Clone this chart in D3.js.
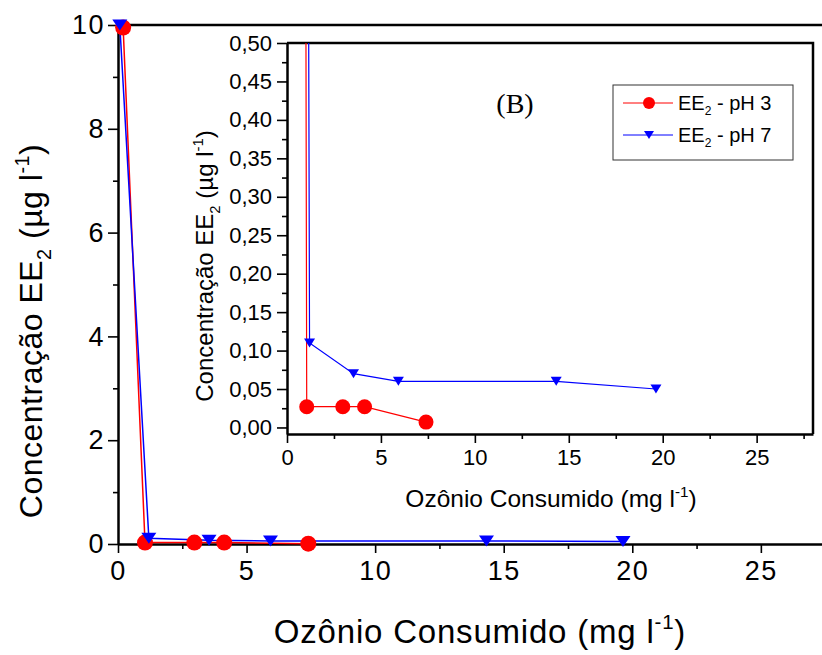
<!DOCTYPE html>
<html>
<head>
<meta charset="utf-8">
<script src="https://cdn.jsdelivr.net/npm/d3@7"></script>
<style>
  body { margin: 0; background: #fff; }
  svg { display: block; }
  text { font-family: "Liberation Sans", Arial, sans-serif; fill: #000; }
</style>
</head>
<body>
<div id="chart"></div>
<script>
// data (x = ozone consumed mg/l, y = EE2 ug/l)
var ph3X = [0.2, 1.05, 2.97, 4.13, 7.4];
var ph3Y = [9.95, 0.027, 0.027, 0.027, 0.007];
var ph7X = [0.07, 1.2, 3.54, 5.93, 14.33, 19.64];
var ph7Y = [10, 0.11, 0.07, 0.06, 0.06, 0.05];

var seriesNames = ["pH 3", "pH 7"];
var mainXTicks = [0, 5, 10, 15, 20, 25];
var mainYTicks = [0, 2, 4, 6, 8, 10];
var insetXTicks = [0, 5, 10, 15, 20, 25];
var insetYTicks = [0, 0.05, 0.10, 0.15, 0.20, 0.25, 0.30, 0.35, 0.40, 0.45, 0.50];

var width = 822, height = 655;

var svg = d3.select("#chart")
  .append("svg")
    .attr("width", width)
    .attr("height", height);

// scales
var x = d3.scaleLinear().domain([0, 28]).range([118, 838]);
var y = d3.scaleLinear().domain([0, 10]).range([544, 25]);
var xi = d3.scaleLinear().domain([0, 28]).range([287, 813]);
var yi = d3.scaleLinear().domain([-0.0085, 0.5]).range([434, 43]);

function pts(xs, ys) {
  return xs.map(function(d, i) { return {x: d, y: ys[i]}; });
}
var ph3 = pts(ph3X, ph3Y);
var ph7 = pts(ph7X, ph7Y);

function tri(w, h) {
  return "M" + (-w/2) + "," + (-h/2) + "L" + (w/2) + "," + (-h/2) + "L0," + (h/2) + "Z";
}

// label with sub / superscripts
function eeLabel(sel, unit) {
  var fs = parseFloat(sel.attr("font-size"));
  sel.append("tspan").text(unit == "mg" ? "Ozônio Consumido (mg l" : "Concentração EE");
  if (unit != "mg") {
    sel.append("tspan").attr("font-size", fs * 0.62).attr("dy", fs * 0.28).text("2");
    sel.append("tspan").attr("dy", -fs * 0.28).text(" (µg l");
  }
  sel.append("tspan").attr("font-size", fs * 0.62).attr("dy", -fs * 0.42).text("-1");
  sel.append("tspan").attr("dy", fs * 0.42).text(")");
}

function styleAxis(g, w) {
  g.select(".domain").attr("stroke-width", w);
  g.selectAll(".tick line").attr("stroke-width", 1.6);
}

/////////////////// main plot ///////////////////

var gx = svg.append("g")
  .attr("transform", "translate(0,544)")
  .call(d3.axisBottom(x).tickValues(mainXTicks).tickSize(9).tickSizeOuter(0).tickPadding(8));
gx.selectAll("text").attr("font-size", 27).attr("letter-spacing", 1.5);
styleAxis(gx, 2.5);
svg.append("g")
  .attr("transform", "translate(0,544)")
  .call(d3.axisBottom(x).tickValues([2.5, 7.5, 12.5, 17.5, 22.5, 27.5]).tickSize(5).tickFormat(""))
  .call(function(g) { g.select(".domain").remove(); g.selectAll("line").attr("stroke-width", 1.6); });

var gy = svg.append("g")
  .attr("transform", "translate(118,0)")
  .call(d3.axisLeft(y).tickValues(mainYTicks).tickSize(10).tickSizeOuter(0).tickPadding(3));
gy.selectAll("text").attr("font-size", 27).attr("letter-spacing", 1.5);
styleAxis(gy, 2.5);
svg.append("g")
  .attr("transform", "translate(118,0)")
  .call(d3.axisLeft(y).tickValues([1, 3, 5, 7, 9]).tickSize(5).tickFormat(""))
  .call(function(g) { g.select(".domain").remove(); g.selectAll("line").attr("stroke-width", 1.6); });

// top frame
svg.append("line")
  .attr("x1", x(0)).attr("x2", x(28))
  .attr("y1", y(10)).attr("y2", y(10))
  .attr("stroke", "#000").attr("stroke-width", 2.5);

svg.append("text")
  .attr("x", 480).attr("y", 643)
  .attr("font-size", 33)
  .attr("letter-spacing", 0.8)
  .attr("text-anchor", "middle")
  .call(eeLabel, "mg");

svg.append("text")
  .attr("transform", "translate(42,331) rotate(-90)")
  .attr("font-size", 32)
  .attr("letter-spacing", 0.5)
  .attr("text-anchor", "middle")
  .call(eeLabel, "ug");

var line = d3.line().x(function(d) { return x(d.x); }).y(function(d) { return y(d.y); });

svg.append("path").datum(ph3).attr("d", line)
  .attr("fill", "none").attr("stroke", "#ff0000").attr("stroke-width", 1.5);
svg.append("path").datum(ph7).attr("d", line)
  .attr("fill", "none").attr("stroke", "#0000ff").attr("stroke-width", 1.5);

svg.selectAll(".m3").data(ph3).enter().append("circle")
  .attr("cx", function(d) { return x(d.x); })
  .attr("cy", function(d) { return y(d.y); })
  .attr("r", 8).attr("fill", "#ff0000");
svg.selectAll(".m7").data(ph7).enter().append("path")
  .attr("d", tri(15, 11))
  .attr("transform", function(d) { return "translate(" + x(d.x) + "," + y(d.y) + ")"; })
  .attr("fill", "#0000ff");

/////////////////// inset (B) ///////////////////

var inset = svg.append("g");

inset.append("clipPath").attr("id", "clipInset")
  .append("rect")
    .attr("x", xi(0)).attr("y", yi(0.5))
    .attr("width", xi(28) - xi(0)).attr("height", yi(-0.0085) - yi(0.5));

var ix = inset.append("g")
  .attr("transform", "translate(0,434)")
  .call(d3.axisBottom(xi).tickValues(insetXTicks).tickSize(9).tickSizeOuter(0).tickPadding(6));
ix.selectAll("text").attr("font-size", 22);
styleAxis(ix, 2.5);
inset.append("g")
  .attr("transform", "translate(0,434)")
  .call(d3.axisBottom(xi).tickValues([2.5, 7.5, 12.5, 17.5, 22.5, 27.5]).tickSize(5).tickFormat(""))
  .call(function(g) { g.select(".domain").remove(); g.selectAll("line").attr("stroke-width", 1.6); });

var iy = inset.append("g")
  .attr("transform", "translate(287,0)")
  .call(d3.axisLeft(yi).tickValues(insetYTicks).tickSize(10).tickSizeOuter(0).tickPadding(5)
    .tickFormat(function(d) { return d3.format(".2f")(d).replace(".", ","); }));
iy.selectAll("text").attr("font-size", 22);
styleAxis(iy, 2.5);
inset.append("g")
  .attr("transform", "translate(287,0)")
  .call(d3.axisLeft(yi).tickValues(d3.range(0.025, 0.5, 0.05)).tickSize(5).tickFormat(""))
  .call(function(g) { g.select(".domain").remove(); g.selectAll("line").attr("stroke-width", 1.6); });

// top and right frame
inset.append("path")
  .attr("d", "M" + xi(0) + "," + yi(0.5) + "H" + xi(28) + "V" + yi(-0.0085))
  .attr("fill", "none").attr("stroke", "#000").attr("stroke-width", 2.5);

inset.append("text")
  .attr("x", 551).attr("y", 507)
  .attr("font-size", 24.5)
  .attr("text-anchor", "middle")
  .call(eeLabel, "mg");

inset.append("text")
  .attr("transform", "translate(213,266) rotate(-90)")
  .attr("font-size", 24)
  .attr("text-anchor", "middle")
  .call(eeLabel, "ug");

inset.append("text")
  .attr("x", 515).attr("y", 113)
  .attr("text-anchor", "middle")
  .attr("font-size", 28)
  .style("font-family", "'Liberation Serif', 'Times New Roman', serif")
  .text("(B)");

var iline = d3.line().x(function(d) { return xi(d.x); }).y(function(d) { return yi(d.y); });
var idata = inset.append("g").attr("clip-path", "url(#clipInset)");

idata.append("path").datum(ph3).attr("d", iline)
  .attr("fill", "none").attr("stroke", "#ff0000").attr("stroke-width", 1.2);
idata.append("path").datum(ph7).attr("d", iline)
  .attr("fill", "none").attr("stroke", "#0000ff").attr("stroke-width", 1.2);

idata.selectAll(".c3").data(ph3).enter().append("circle")
  .attr("cx", function(d) { return xi(d.x); })
  .attr("cy", function(d) { return yi(d.y); })
  .attr("r", 7.5).attr("fill", "#ff0000");
idata.selectAll(".t7").data(ph7).enter().append("path")
  .attr("d", tri(11, 9))
  .attr("transform", function(d) { return "translate(" + xi(d.x) + "," + yi(d.y) + ")"; })
  .attr("fill", "#0000ff");

// legend
var legend = inset.append("g");
legend.append("rect")
  .attr("x", 613).attr("y", 85).attr("width", 180).attr("height", 75)
  .attr("fill", "#fff").attr("stroke", "#333").attr("stroke-width", 1);

var colors = ["#ff0000", "#0000ff"];
seriesNames.forEach(function(name, i) {
  var ly = 103 + i * 32;
  legend.append("line")
    .attr("x1", 623).attr("x2", 673).attr("y1", ly).attr("y2", ly)
    .attr("stroke", colors[i]).attr("stroke-width", 1);
  if (i == 0) {
    legend.append("circle").attr("cx", 649).attr("cy", ly).attr("r", 6).attr("fill", colors[i]);
  } else {
    legend.append("path").attr("d", tri(10, 8))
      .attr("transform", "translate(649," + ly + ")").attr("fill", colors[i]);
  }
  var t = legend.append("text")
    .attr("x", 678).attr("y", ly + 7)
    .attr("font-size", 20);
  t.append("tspan").text("EE");
  t.append("tspan").attr("font-size", 12).attr("dy", 5).text("2");
  t.append("tspan").attr("dy", -5).text(" - " + name);
});
</script>
</body>
</html>
